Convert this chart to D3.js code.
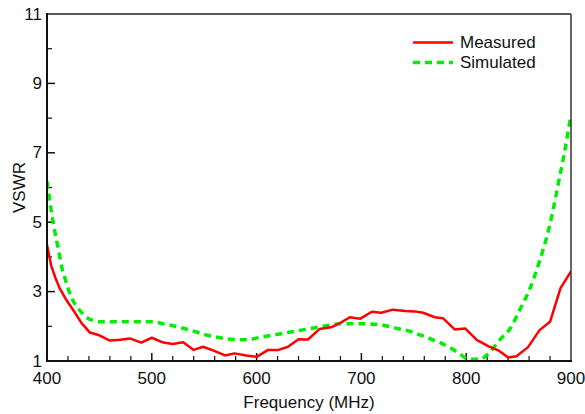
<!DOCTYPE html>
<html>
<head>
<meta charset="utf-8">
<script src="https://cdn.jsdelivr.net/npm/d3@7"></script>
<style>
  body { margin: 0; background: #fff; }
  text { font-family: "Liberation Sans", Arial, sans-serif; fill: #111; }
</style>
</head>
<body>
<div id="chart-container"></div>
<script>
// Data
const measFreq = [400, 404, 408, 412, 418, 425, 433, 441, 449, 460, 470, 479, 490, 500, 511, 520, 530, 540, 549, 559, 570, 579, 590, 600, 611, 621, 630, 640, 649, 660, 671, 680, 689, 699, 710, 719, 730, 742, 751, 759, 770, 778, 789, 799, 810, 821, 831, 840, 848, 859, 870, 880, 890, 900];
const measVswr = [4.35, 3.75, 3.4, 3.1, 2.78, 2.47, 2.09, 1.82, 1.75, 1.59, 1.61, 1.65, 1.53, 1.67, 1.53, 1.49, 1.54, 1.32, 1.41, 1.30, 1.16, 1.22, 1.16, 1.12, 1.32, 1.32, 1.41, 1.63, 1.62, 1.92, 1.97, 2.10, 2.26, 2.22, 2.42, 2.39, 2.48, 2.44, 2.43, 2.39, 2.26, 2.23, 1.91, 1.94, 1.61, 1.43, 1.30, 1.10, 1.14, 1.40, 1.89, 2.13, 3.10, 3.58];
const simFreq = [400, 403, 406, 411, 414, 418, 423, 431, 439, 445, 451, 470, 489, 501, 511, 524, 541, 552, 565, 578, 590, 603, 622, 641, 660, 680, 705, 721, 734, 747, 762, 775, 791, 803, 813, 823, 832, 842, 851, 861, 870, 877, 883, 888, 893, 900];
const simVswr = [6.17, 5.55, 4.97, 4.2, 3.72, 3.3, 2.85, 2.47, 2.23, 2.16, 2.13, 2.13, 2.13, 2.13, 2.07, 1.99, 1.85, 1.75, 1.67, 1.62, 1.61, 1.68, 1.78, 1.88, 1.98, 2.07, 2.07, 2.03, 1.94, 1.85, 1.68, 1.53, 1.27, 1.05, 1.05, 1.27, 1.61, 1.94, 2.47, 3.10, 3.88, 4.59, 5.36, 6.13, 6.89, 8.10];
const xTicks = [400, 500, 600, 700, 800, 900];
const yTicks = [1, 3, 5, 7, 9, 11];
const seriesNames = ["Measured", "Simulated"];

const width = 585, height = 414;
const margin = {top: 14, right: 14, bottom: 53, left: 47};
const fontSize = "17px";

const svg = d3.select("#chart-container").append("svg")
  .attr("width", width).attr("height", height);

// Scales
const x = d3.scaleLinear().domain([400, 900]).range([margin.left, width - margin.right]);
const y = d3.scaleLinear().domain([1, 11]).range([height - margin.bottom, margin.top]);

const chart = svg.append("g");

// clip so curves stay in the frame
svg.append("clipPath").attr("id", "clip")
  .append("rect")
  .attr("x", margin.left).attr("y", margin.top)
  .attr("width", x(900) - x(400)).attr("height", y(1) - y(11));

// Minor + major ticks, inward
const xMinor = d3.range(420, 900, 20).filter(d => d % 100 !== 0);
chart.append("g").selectAll("line").data(xMinor).join("line")
  .attr("x1", d => x(d)).attr("x2", d => x(d))
  .attr("y1", y(1)).attr("y2", y(1) - 5)
  .attr("stroke", "#111").attr("stroke-width", 1.2);
chart.append("g").selectAll("line").data(xTicks.slice(1, -1)).join("line")
  .attr("x1", d => x(d)).attr("x2", d => x(d))
  .attr("y1", y(1)).attr("y2", y(1) - 8)
  .attr("stroke", "#111").attr("stroke-width", 1.5);

const yMinor = d3.range(2, 11, 2);
chart.append("g").selectAll("line").data(yMinor).join("line")
  .attr("x1", x(400)).attr("x2", x(400) + 5)
  .attr("y1", d => y(d)).attr("y2", d => y(d))
  .attr("stroke", "#111").attr("stroke-width", 1.2);
chart.append("g").selectAll("line").data(yTicks.slice(1, -1)).join("line")
  .attr("x1", x(400)).attr("x2", x(400) + 8)
  .attr("y1", d => y(d)).attr("y2", d => y(d))
  .attr("stroke", "#111").attr("stroke-width", 1.5);

// Tick labels
chart.append("g").selectAll("text").data(xTicks).join("text")
  .text(d => d)
  .attr("x", d => x(d)).attr("y", y(1) + 23)
  .attr("text-anchor", "middle")
  .style("font-size", fontSize);
chart.append("g").selectAll("text").data(yTicks).join("text")
  .text(d => d)
  .attr("x", x(400) - 5).attr("y", d => y(d))
  .attr("text-anchor", "end")
  .attr("dominant-baseline", "central")
  .style("font-size", fontSize);

// Axis titles
chart.append("text").text("Frequency (MHz)")
  .attr("x", (x(400) + x(900)) / 2).attr("y", 408)
  .attr("text-anchor", "middle")
  .style("font-size", fontSize);
chart.append("text").text("VSWR")
  .attr("transform", `translate(25, ${(y(1) + y(11)) / 2}) rotate(-90)`)
  .attr("text-anchor", "middle")
  .style("font-size", fontSize);

// Curves
const measData = measFreq.map((f, i) => [f, measVswr[i]]);
const simData = simFreq.map((f, i) => [f, simVswr[i]]);

const lineLin = d3.line().x(d => x(d[0])).y(d => y(d[1])).curve(d3.curveLinear);
const lineSmooth = d3.line().x(d => x(d[0])).y(d => y(d[1])).curve(d3.curveMonotoneX);

const curves = chart.append("g").attr("clip-path", "url(#clip)");
curves.append("path").datum(simData)
  .attr("d", lineSmooth)
  .attr("fill", "none").attr("stroke", "#00ee00")
  .attr("stroke-width", 3.5).attr("stroke-dasharray", "7,5");
curves.append("path").datum(measData)
  .attr("d", lineLin)
  .attr("fill", "none").attr("stroke", "#ff0000")
  .attr("stroke-width", 2.5).attr("stroke-linejoin", "round");

// Frame
chart.append("line").attr("x1", x(400)).attr("x2", x(900)).attr("y1", y(11)).attr("y2", y(11))
  .attr("stroke", "#222").attr("stroke-width", 1.5);
chart.append("line").attr("x1", x(900)).attr("x2", x(900)).attr("y1", y(11)).attr("y2", y(1))
  .attr("stroke", "#333").attr("stroke-width", 1.5);
chart.append("line").attr("x1", x(400)).attr("x2", x(400)).attr("y1", y(11) - 1).attr("y2", y(1) + 1)
  .attr("stroke", "#111").attr("stroke-width", 2);
chart.append("line").attr("x1", x(400) - 1).attr("x2", x(900) + 1).attr("y1", y(1)).attr("y2", y(1))
  .attr("stroke", "#111").attr("stroke-width", 2);

// Legend
const legend = chart.append("g").selectAll("g").data(seriesNames).join("g")
  .attr("transform", (d, i) => `translate(413, ${42.5 + i * 20})`);
legend.append("line")
  .attr("x1", 0).attr("x2", 40).attr("y1", 0).attr("y2", 0)
  .attr("stroke", (d, i) => i === 0 ? "#ff0000" : "#00ee00")
  .attr("stroke-width", (d, i) => i === 0 ? 2.5 : 3.5)
  .attr("stroke-dasharray", (d, i) => i === 0 ? null : "7,5");
legend.append("text").text(d => d)
  .attr("x", 47).attr("y", 0)
  .attr("dominant-baseline", "central")
  .style("font-size", fontSize);
</script>
</body>
</html>
